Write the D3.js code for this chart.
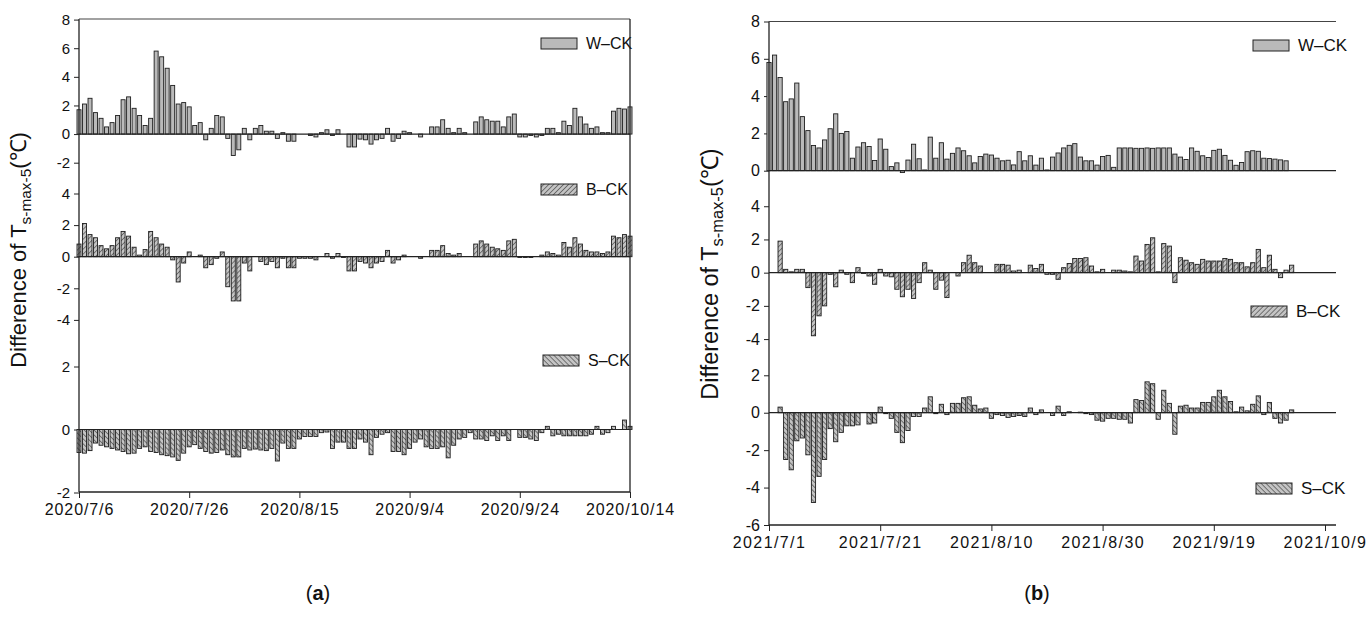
<!DOCTYPE html>
<html>
<head>
<meta charset="utf-8">
<script src="https://cdn.jsdelivr.net/npm/d3@7"></script>
<style>
  body { margin: 0; background: #fff; }
  svg { font-family: "Liberation Sans", Arial, sans-serif; }
</style>
</head>
<body>
<svg id="chart" width="1368" height="627"></svg>
<script>
// daily differences, one value per day from the start date (null = no bar)
const leftStart = '2020/7/6';
const leftTickLabels = ['2020/7/6', '2020/7/26', '2020/8/15', '2020/9/4', '2020/9/24', '2020/10/14'];
const leftW = [1.7,2.1,2.5,1.5,1.1,0.5,0.8,1.3,2.4,2.6,
  1.8,1.3,0.6,1.1,5.8,5.4,4.6,3.4,2.1,2.2,
  1.9,0.6,0.8,-0.4,0.4,1.3,1.2,-0.3,-1.5,-1.1,
  0.4,-0.4,0.4,0.6,0.2,0.2,-0.3,0.1,-0.5,-0.5,
  null,null,-0.1,-0.2,0.1,0.3,-0.1,0.3,null,-0.9,
  -0.9,-0.35,-0.4,-0.7,-0.4,-0.3,0.4,-0.5,-0.3,0.2,
  0.1,null,-0.2,null,0.5,0.5,1.0,0.4,0.1,0.4,
  0.1,null,0.85,1.2,1.0,0.9,0.9,0.5,1.2,1.4,
  -0.2,-0.2,-0.1,-0.2,-0.1,0.4,0.4,0.1,0.9,0.6,
  1.8,1.2,0.7,0.4,0.5,0.1,0.1,1.6,1.8,1.75,
  1.9];
const leftB = [0.8,2.1,1.4,1.2,0.7,0.5,0.7,1.2,1.6,1.3,
  0.6,0.1,0.45,1.6,1.2,0.8,0.6,-0.2,-1.6,-0.4,
  0.3,null,0.1,-0.7,-0.5,-0.1,0.3,-1.9,-2.8,-2.8,
  -0.4,-0.9,null,-0.3,-0.5,-0.3,-0.7,-0.1,-0.7,-0.7,
  -0.1,-0.1,-0.1,-0.2,null,0.2,-0.1,0.2,-0.05,-0.9,
  -0.9,-0.3,-0.4,-0.7,-0.4,-0.3,0.4,-0.4,-0.2,0.1,
  null,null,-0.1,null,0.4,0.4,0.7,0.2,0.1,0.2,
  null,null,0.8,1.0,0.8,0.6,0.5,0.4,1.0,1.1,
  -0.05,-0.05,-0.05,null,0.1,0.3,0.2,0.1,0.9,0.6,
  1.2,0.8,0.4,0.3,0.3,0.2,0.3,1.3,1.2,1.4,
  1.3];
const leftS = [-0.73,-0.75,-0.67,-0.43,-0.5,-0.55,-0.6,-0.65,-0.7,-0.77,
  -0.75,-0.6,-0.55,-0.7,-0.73,-0.8,-0.83,-0.87,-0.98,-0.75,
  -0.55,-0.48,-0.6,-0.7,-0.75,-0.73,-0.65,-0.8,-0.87,-0.87,
  -0.6,-0.65,-0.62,-0.65,-0.67,-0.6,-1.0,-0.43,-0.6,-0.6,
  -0.3,-0.22,-0.22,-0.22,-0.1,-0.08,-0.6,-0.4,-0.4,-0.6,
  -0.6,-0.3,-0.4,-0.8,-0.25,-0.15,-0.1,-0.7,-0.7,-0.8,
  -0.6,-0.4,-0.3,-0.55,-0.6,-0.6,-0.55,-0.9,-0.5,-0.3,
  -0.25,-0.1,-0.3,-0.3,-0.35,-0.2,-0.35,-0.2,-0.35,null,
  -0.25,-0.25,-0.3,-0.35,-0.1,0.1,-0.2,-0.15,-0.2,-0.2,
  -0.2,-0.2,-0.2,-0.15,0.1,-0.15,-0.1,0.1,null,0.3,
  0.1];

const rightStart = '2021/7/1';
const rightTickLabels = ['2021/7/1', '2021/7/21', '2021/8/10', '2021/8/30', '2021/9/19', '2021/10/9'];
const rightW = [5.8,6.2,5.0,3.7,3.85,4.7,2.9,2.15,1.35,1.22,
  1.65,2.25,3.05,2.0,2.1,0.67,1.27,1.5,1.3,0.55,
  1.7,1.15,0.22,0.42,-0.1,0.57,1.42,0.64,0.04,1.8,
  0.67,1.5,0.62,0.93,1.22,1.07,0.8,0.42,0.76,0.89,
  0.84,0.67,0.53,0.56,0.31,1.02,0.53,0.8,0.3,0.67,
  0.04,0.73,0.95,1.22,1.36,1.45,0.73,0.53,0.53,0.3,
  0.76,0.82,0.18,1.22,1.22,1.22,1.2,1.2,1.22,1.2,
  1.22,1.22,1.22,0.89,0.73,0.6,1.22,1.04,0.8,0.71,
  1.09,1.15,0.82,0.56,0.29,0.44,1.02,1.07,1.04,0.67,
  0.65,0.62,0.58,0.53];
const rightB = [null,null,1.9,0.2,0.05,0.2,0.2,-0.9,-3.8,-2.6,
  -2.0,-0.1,-0.85,0.15,-0.1,-0.6,0.3,-0.05,-0.2,-0.7,
  0.2,-0.2,-0.25,-1.0,-1.45,-1.0,-1.55,-0.6,0.6,0.15,
  -1.0,-0.45,-1.5,null,-0.2,0.6,1.05,0.6,0.4,null,
  null,0.5,0.5,0.45,0.1,0.15,null,0.45,0.25,0.5,
  -0.1,-0.1,-0.4,0.3,0.55,0.85,0.85,0.9,0.4,0.05,
  0.2,null,0.15,0.15,0.1,0.05,1.0,0.7,1.7,2.1,
  0.05,1.75,1.6,-0.6,0.9,0.75,0.6,0.5,0.8,0.7,
  0.7,0.7,0.85,0.8,0.6,0.6,0.35,0.6,1.4,0.3,
  1.05,0.2,-0.3,0.15,0.45];
const rightS = [null,null,0.3,-2.5,-3.05,-1.5,-1.35,-2.25,-4.8,-3.4,
  -2.5,-0.85,-1.55,-1.05,-0.7,-0.7,-0.65,null,-0.6,-0.55,
  0.3,-0.05,-0.3,-1.05,-1.6,-0.95,-0.2,-0.2,0.25,0.85,
  -0.05,0.45,-0.1,0.5,0.5,0.8,0.85,0.4,0.2,0.25,
  -0.3,-0.1,-0.15,-0.25,-0.2,-0.15,-0.2,0.25,-0.1,0.15,
  null,-0.15,0.35,-0.15,0.05,null,0.03,-0.05,-0.1,-0.4,
  -0.45,-0.3,-0.3,-0.35,-0.35,-0.55,0.7,0.65,1.65,1.55,
  -0.35,1.2,0.5,-1.15,0.35,0.4,0.25,0.25,0.55,0.55,
  0.85,1.2,0.85,0.6,0.05,0.3,0.1,0.45,0.9,-0.1,
  0.55,-0.3,-0.55,-0.4,0.15];

const seriesNames = ['W\u2013CK', 'B\u2013CK', 'S\u2013CK'];

const parse = d3.timeParse('%Y/%m/%d');
const svg = d3.select('#chart');

// hatch patterns for B-CK and S-CK
const defs = svg.append('defs');
function hatch(id, angle) {
  const p = defs.append('pattern')
    .attr('id', id)
    .attr('patternUnits', 'userSpaceOnUse')
    .attr('width', 3.5).attr('height', 3.5)
    .attr('patternTransform', `rotate(${angle})`);
  p.append('rect').attr('width', 3.5).attr('height', 3.5).attr('fill', '#c4c4c4');
  p.append('line').attr('x1', 0).attr('y1', 0).attr('x2', 0).attr('y2', 3.5)
    .attr('stroke', '#3a3a3a').attr('stroke-width', 1.2);
}
hatch('hatchB', 45);
hatch('hatchS', -45);
const fills = ['#bababa', 'url(#hatchB)', 'url(#hatchS)'];

function drawPanel(cfg) {
  const g = svg.append('g');
  const x = d3.scaleTime()
    .domain([parse(cfg.start), parse(cfg.end)])
    .range([cfg.left, cfg.right]);
  const start = parse(cfg.start);

  cfg.panels.forEach((p, k) => {
    const y = d3.scaleLinear().domain(p.domain).range(p.range);

    // left ticks for this sub-panel
    const ax = g.append('g')
      .attr('transform', `translate(${cfg.left},0)`)
      .call(d3.axisLeft(y).tickValues(p.ticks).tickSize(5).tickPadding(4));
    ax.select('.domain').remove();
    ax.selectAll('text').style('font-size', cfg.tickFont + 'px').attr('fill', '#111')
      .text(d => d < 0 ? '-' + Math.abs(d) : d);
    ax.selectAll('line').attr('stroke', '#222');

    const data = p.values.map((v, i) => ({ date: d3.timeDay.offset(start, i), v: v }))
      .filter(d => d.v !== null);

    g.append('g').selectAll('rect')
      .data(data)
      .enter()
      .append('rect')
      .attr('x', d => x(d.date) - cfg.bw / 2)
      .attr('y', d => Math.min(y(d.v), y(0)))
      .attr('width', cfg.bw)
      .attr('height', d => Math.abs(y(d.v) - y(0)))
      .attr('fill', fills[k])
      .attr('stroke', '#1e1e1e')
      .attr('stroke-width', 0.9);

    // zero line
    g.append('line')
      .attr('x1', cfg.left).attr('x2', cfg.zeroEnd)
      .attr('y1', y(0)).attr('y2', y(0))
      .attr('stroke', '#222').attr('stroke-width', 1.2);

    // legend
    g.append('rect')
      .attr('x', p.legend[0]).attr('y', p.legend[1])
      .attr('width', 36).attr('height', 11)
      .attr('fill', fills[k]).attr('stroke', '#222').attr('stroke-width', 1);
    g.append('text')
      .attr('x', p.legend[0] + 45).attr('y', p.legend[1] + 11)
      .style('font-size', cfg.legendFont + 'px').attr('fill', '#111')
      .text(seriesNames[k]);
  });

  // frame / axes
  g.append('line').attr('x1', cfg.left).attr('x2', cfg.left)
    .attr('y1', cfg.top).attr('y2', cfg.bottom).attr('stroke', '#222').attr('stroke-width', 1.3);
  g.append('line').attr('x1', cfg.left).attr('x2', cfg.frameRight)
    .attr('y1', cfg.top).attr('y2', cfg.top).attr('stroke', '#444').attr('stroke-width', 1.2);
  if (cfg.rightBorder) {
    g.append('line').attr('x1', cfg.frameRight).attr('x2', cfg.frameRight)
      .attr('y1', cfg.top).attr('y2', cfg.bottom).attr('stroke', '#222').attr('stroke-width', 1.3);
  }

  const tickDates = cfg.tickLabels.map(parse);
  const xa = g.append('g')
    .attr('transform', `translate(0,${cfg.bottom})`)
    .call(d3.axisBottom(x).tickValues(tickDates).tickSize(6).tickPadding(6)
      .tickFormat((d, i) => cfg.tickLabels[i]));
  xa.select('.domain').remove();
  xa.selectAll('text').style('font-size', '16px').style('letter-spacing', cfg.xSpacing + 'px')
    .attr('fill', '#111');
  xa.selectAll('line').attr('stroke', '#222');
  g.append('line').attr('x1', cfg.left).attr('x2', cfg.frameRight)
    .attr('y1', cfg.bottom).attr('y2', cfg.bottom).attr('stroke', '#222').attr('stroke-width', 1.3);

  // y title
  const t = g.append('text')
    .attr('transform', `translate(${cfg.titleX},${cfg.titleY}) rotate(-90)`)
    .attr('text-anchor', 'middle')
    .style('font-size', cfg.titleFont + 'px').attr('fill', '#111');
  t.append('tspan').text('Difference of T');
  t.append('tspan').attr('dy', 5).style('font-size', (cfg.titleFont * 0.7) + 'px').text('s-max-5');
  t.append('tspan').attr('dy', -5).text('(\u2103)');

  // panel letter
  const lab = g.append('text').attr('x', cfg.letterX).attr('y', 600)
    .attr('text-anchor', 'middle').style('font-size', '20px').attr('fill', '#111');
  lab.append('tspan').text('(');
  lab.append('tspan').style('font-weight', 'bold').text(cfg.letter);
  lab.append('tspan').text(')');
}

drawPanel({
  start: leftStart, end: '2020/10/14', tickLabels: leftTickLabels,
  left: 79, right: 630, frameRight: 630, zeroEnd: 630, rightBorder: true,
  top: 19, bottom: 492, bw: 4, tickFont: 15, legendFont: 16, xSpacing: 0.9,
  titleX: 26, titleY: 250, titleFont: 22, letterX: 318, letter: 'a',
  panels: [
    { values: leftW, domain: [-3, 8], range: [177, 19.6], ticks: [-2, 0, 2, 4, 6, 8], legend: [541, 38] },
    { values: leftB, domain: [-5, 5], range: [335.7, 177.7], ticks: [-4, -2, 0, 2, 4], legend: [541, 184] },
    { values: leftS, domain: [-2, 3], range: [492.5, 335], ticks: [-2, 0, 2], legend: [543, 355] }
  ]
});

drawPanel({
  start: rightStart, end: '2021/10/9', tickLabels: rightTickLabels,
  left: 769, right: 1325, frameRight: 1336, zeroEnd: 1336, rightBorder: false,
  top: 21.5, bottom: 525, bw: 4.2, tickFont: 16, legendFont: 17, xSpacing: 1.4,
  titleX: 718, titleY: 274, titleFont: 23.5, letterX: 1037, letter: 'b',
  panels: [
    { values: rightW, domain: [0, 8], range: [170.7, 21.5], ticks: [0, 2, 4, 6, 8], legend: [1253, 40] },
    { values: rightB, domain: [-6, 6.14], range: [372.3, 170.7], ticks: [-4, -2, 0, 2, 4], legend: [1251, 306] },
    { values: rightS, domain: [-6, 2.16], range: [525, 372.3], ticks: [-6, -4, -2, 0, 2], legend: [1256, 483] }
  ]
});
</script>
</body>
</html>
